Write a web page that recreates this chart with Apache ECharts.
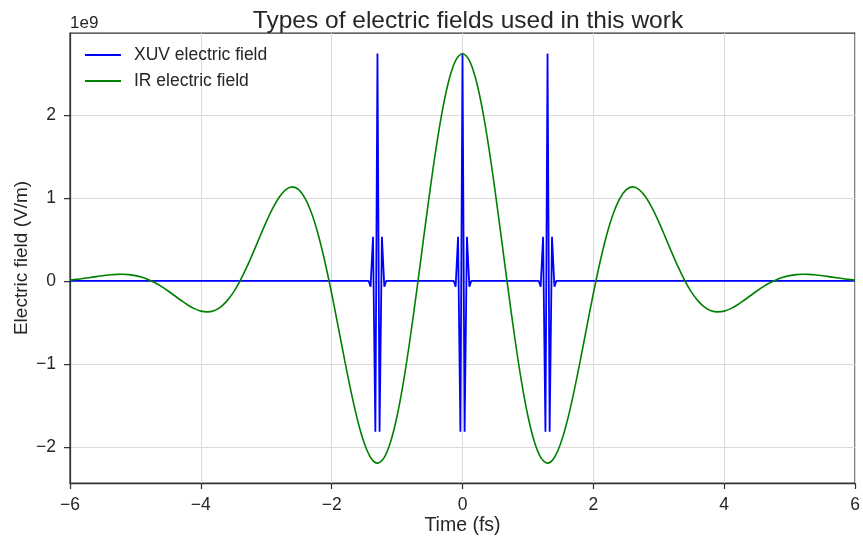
<!DOCTYPE html>
<html>
<head>
<meta charset="utf-8">
<script src="https://cdn.jsdelivr.net/npm/echarts@6/dist/echarts.min.js"></script>
<style>html,body{margin:0;padding:0;background:#fff;}#c{width:863px;height:539px;}</style>
</head>
<body>
<div id="c"></div>
<script>
// Values in units of 1e9 V/m, time in fs
const irTime = [-6.0,-5.9,-5.8,-5.7,-5.6,-5.5,-5.4,-5.3,-5.2,-5.1,-5.0,-4.9,-4.8,-4.7,-4.6,-4.5,-4.4,-4.3,-4.2,-4.1,
  -4.0,-3.9,-3.8,-3.7,-3.6,-3.5,-3.4,-3.3,-3.2,-3.1,-3.0,-2.9,-2.8,-2.7,-2.6,-2.5,-2.4,-2.3,-2.2,-2.1,
  -2.0,-1.9,-1.8,-1.7,-1.6,-1.5,-1.4,-1.3,-1.2,-1.1,-1.0,-0.9,-0.8,-0.7,-0.6,-0.5,-0.4,-0.3,-0.2,-0.1,
  0.0,0.1,0.2,0.3,0.4,0.5,0.6,0.7,0.8,0.9,1.0,1.1,1.2,1.3,1.4,1.5,1.6,1.7,1.8,1.9,
  2.0,2.1,2.2,2.3,2.4,2.5,2.6,2.7,2.8,2.9,3.0,3.1,3.2,3.3,3.4,3.5,3.6,3.7,3.8,3.9,
  4.0,4.1,4.2,4.3,4.4,4.5,4.6,4.7,4.8,4.9,5.0,5.1,5.2,5.3,5.4,5.5,5.6,5.7,5.8,5.9,6.0];
const irField = [0.008,0.017,0.028,0.039,0.051,0.062,0.071,0.078,0.079,0.075,0.063,0.043,0.014,-0.024,-0.070,-0.123,-0.180,-0.237,-0.291,-0.335,
  -0.365,-0.374,-0.360,-0.316,-0.242,-0.136,0.000,0.161,0.340,0.527,0.710,0.876,1.011,1.100,1.132,1.096,0.986,0.799,0.541,0.218,
  -0.153,-0.555,-0.962,-1.350,-1.692,-1.961,-2.135,-2.197,-2.134,-1.943,-1.629,-1.205,-0.692,-0.119,0.481,1.073,1.617,2.084,2.441,2.664,
  2.740,2.664,2.441,2.084,1.617,1.073,0.481,-0.119,-0.692,-1.205,-1.629,-1.943,-2.134,-2.197,-2.135,-1.961,-1.692,-1.350,-0.962,-0.555,
  -0.153,0.218,0.541,0.799,0.986,1.096,1.132,1.100,1.011,0.876,0.710,0.527,0.340,0.161,0.000,-0.136,-0.242,-0.316,-0.360,-0.374,
  -0.365,-0.335,-0.291,-0.237,-0.180,-0.123,-0.070,-0.024,0.014,0.043,0.063,0.075,0.079,0.078,0.071,0.062,0.051,0.039,0.028,0.017,0.008];

const xuvTime = [-6.0,
  -1.435,-1.405,-1.368,-1.332,-1.3,-1.268,-1.232,-1.195,-1.165,
  -0.135,-0.105,-0.068,-0.032,0.0,0.032,0.068,0.105,0.135,
  1.165,1.195,1.232,1.268,1.3,1.332,1.368,1.405,1.435,
  6.0];
const xuvField = [0,
  0,-0.07,0.53,-1.82,2.74,-1.82,0.53,-0.07,0,
  0,-0.07,0.53,-1.82,2.74,-1.82,0.53,-0.07,0,
  0,-0.07,0.53,-1.82,2.74,-1.82,0.53,-0.07,0,
  0];

const xTicks = [-6,-4,-2,0,2,4,6];
const yTicks = [-2,-1,0,1,2];
const seriesNames = ['XUV electric field','IR electric field'];

const FONT = '"Liberation Sans", Arial, sans-serif';
const TXT = '#262626';
const minus = v => String(v).replace('-', '\u2212');

const chart = echarts.init(document.getElementById('c'), null, {renderer:'canvas'});
chart.setOption({
  animation: false,
  backgroundColor: '#fff',
  textStyle: {fontFamily: FONT},
  title: {
    text: 'Types of electric fields used in this work',
    left: 463, top: 4, textAlign: 'center',
    textStyle: {fontFamily: FONT, fontSize: 24.5, fontWeight: 'normal', color: TXT}
  },
  graphic: [{
    type: 'text', left: 70, top: 15,
    style: {text: '1e9', fontFamily: FONT, fontSize: 17, fill: TXT}
  }],
  legend: {
    data: seriesNames.map(n => ({name: n, icon: 'rect'})),
    orient: 'vertical', left: 80, top: 41,
    itemWidth: 36, itemHeight: 2, itemGap: 8,
    textStyle: {fontFamily: FONT, fontSize: 17.5, lineHeight: 18, color: TXT, padding: [0,0,0,8]}
  },
  grid: {left: 70, right: 8, top: 33, bottom: 56, containLabel: false, outerBoundsMode: 'none',
    show: true, borderColor: '#333', borderWidth: 1.25, backgroundColor: 'transparent'},
  xAxis: {
    type: 'value', min: -6, max: 6, interval: 2,
    name: 'Time (fs)', nameLocation: 'middle', nameGap: 33, nameMoveOverlap: false,
    nameTextStyle: {fontFamily: FONT, fontSize: 19.5, color: TXT},
    axisLine: {show: true, onZero: false, lineStyle: {color: '#333', width: 1.25}},
    axisTick: {show: true, length: 6, lineStyle: {color: '#333', width: 1.25}, customValues: xTicks},
    axisLabel: {fontFamily: FONT, fontSize: 17.5, color: TXT, margin: 13, formatter: minus, customValues: xTicks},
    splitLine: {show: true, lineStyle: {color: '#dadada', width: 1}}
  },
  yAxis: {
    type: 'value', min: -2.4365, max: 2.9865, minInterval: 1, maxInterval: 1, splitNumber: 5,
    name: 'Electric field (V/m)', nameLocation: 'middle', nameGap: 39, nameMoveOverlap: false,
    nameTextStyle: {fontFamily: FONT, fontSize: 19, color: TXT},
    axisLine: {show: true, onZero: false, lineStyle: {color: '#333', width: 1.25}},
    axisTick: {show: true, length: 6, lineStyle: {color: '#333', width: 1.25}, customValues: yTicks},
    axisLabel: {fontFamily: FONT, fontSize: 17.5, color: TXT, margin: 14, formatter: minus, customValues: yTicks},
    splitLine: {show: true, lineStyle: {color: '#dadada', width: 1}}
  },
  series: [
    {
      name: seriesNames[0], type: 'line', symbol: 'none',
      data: xuvTime.map((t, i) => [t, xuvField[i]]),
      lineStyle: {color: '#0000ff', width: 1.8}, itemStyle: {color: '#0000ff'}, z: 2
    },
    {
      name: seriesNames[1], type: 'line', symbol: 'none', smooth: 0.3,
      data: irTime.map((t, i) => [t, irField[i]]),
      lineStyle: {color: '#008000', width: 1.6}, itemStyle: {color: '#008000'}, z: 3
    }
  ]
});
</script>
</body>
</html>
